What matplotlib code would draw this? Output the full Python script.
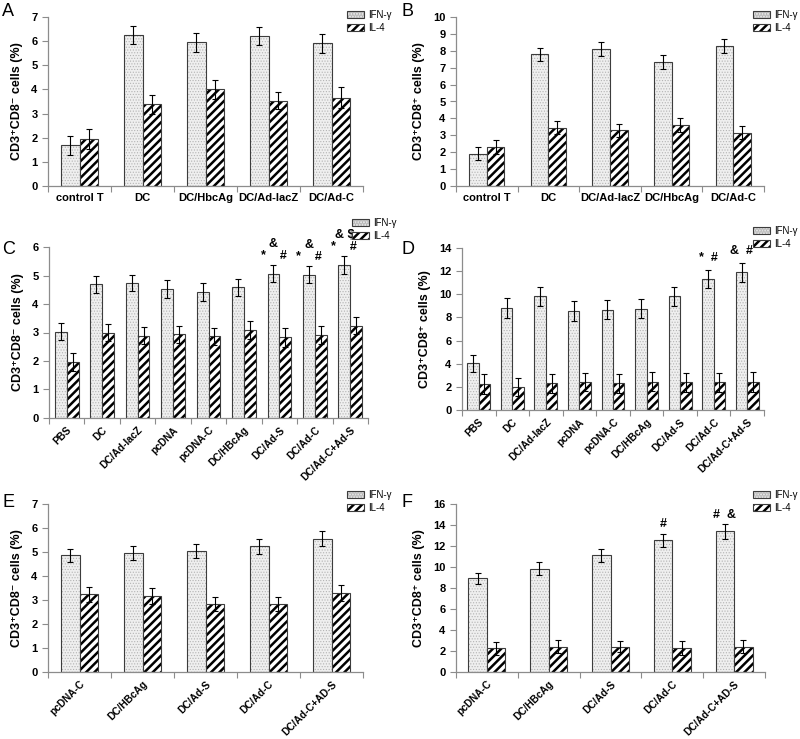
import numpy as np
import matplotlib
matplotlib.use("Agg")
import matplotlib.pyplot as plt
from matplotlib.patches import Patch

plt.rcParams['font.family'] = ['Liberation Sans', 'DejaVu Sans']
plt.rcParams['hatch.linewidth'] = 1.8

# ---- data ----
cats_a = ["control T", "DC", "DC/HbcAg", "DC/Ad-lacZ", "DC/Ad-C"]
ifn_a = [1.69, 6.25, 5.95, 6.20, 5.91]
ifn_err_a = [0.39, 0.38, 0.39, 0.38, 0.39]
il4_a = [1.94, 3.38, 4.01, 3.54, 3.66]
il4_err_a = [0.42, 0.39, 0.39, 0.37, 0.42]

cats_b = ["control T", "DC", "DC/Ad-lacZ", "DC/HbcAg", "DC/Ad-C"]
ifn_b = [1.91, 7.79, 8.13, 7.34, 8.28]
ifn_err_b = [0.40, 0.40, 0.41, 0.41, 0.42]
il4_b = [2.31, 3.45, 3.29, 3.59, 3.16]
il4_err_b = [0.39, 0.40, 0.40, 0.41, 0.39]

cats_c = ["PBS", "DC", "DC/Ad-lacZ", "pcDNA", "pcDNA-C", "DC/HBcAg",
          "DC/Ad-S", "DC/Ad-C", "DC/Ad-C+Ad-S"]
ifn_c = [3.03, 4.69, 4.74, 4.52, 4.43, 4.58, 5.07, 5.03, 5.36]
ifn_err_c = [0.29, 0.29, 0.29, 0.31, 0.31, 0.31, 0.29, 0.30, 0.31]
il4_c = [1.96, 3.00, 2.88, 2.94, 2.86, 3.09, 2.83, 2.91, 3.24]
il4_err_c = [0.31, 0.30, 0.30, 0.30, 0.29, 0.31, 0.33, 0.31, 0.31]
notes_c = {6: "&\n*    #", 7: "&\n*    #", 8: "& $\n*    #"}

cats_d = ["PBS", "DC", "DC/Ad-lacZ", "pcDNA", "pcDNA-C", "DC/HBcAg",
          "DC/Ad-S", "DC/Ad-C", "DC/Ad-C+Ad-S"]
ifn_d = [4.04, 8.80, 9.81, 8.57, 8.66, 8.75, 9.81, 11.35, 11.90]
ifn_err_d = [0.72, 0.84, 0.80, 0.84, 0.81, 0.80, 0.81, 0.77, 0.80]
il4_d = [2.22, 2.02, 2.31, 2.40, 2.31, 2.45, 2.40, 2.40, 2.45]
il4_err_d = [0.85, 0.78, 0.81, 0.78, 0.81, 0.81, 0.83, 0.83, 0.87]
notes_d = {7: "*  #", 8: "&  #"}

cats_e = ["pcDNA-C", "DC/HBcAg", "DC/Ad-S", "DC/Ad-C", "DC/Ad-C+AD-S"]
ifn_e = [4.86, 4.97, 5.04, 5.24, 5.56]
ifn_err_e = [0.27, 0.30, 0.30, 0.31, 0.30]
il4_e = [3.23, 3.18, 2.84, 2.84, 3.29]
il4_err_e = [0.32, 0.34, 0.30, 0.30, 0.33]

cats_f = ["pcDNA-C", "DC/HBcAg", "DC/Ad-S", "DC/Ad-C", "DC/Ad-C+AD-S"]
ifn_f = [8.91, 9.85, 11.10, 12.55, 13.40]
ifn_err_f = [0.56, 0.65, 0.63, 0.63, 0.69]
il4_f = [2.26, 2.42, 2.42, 2.32, 2.42]
il4_err_f = [0.63, 0.62, 0.56, 0.66, 0.65]
notes_f = {3: "#", 4: "#  &"}

ylab_neg = "CD3\u207aCD8\u207b cells (%)"
ylab_pos = "CD3\u207aCD8\u207a cells (%)"

EDGE = "#3c3c3c"
SPINE = "#8c8c8c"
DOT_FACE = "#efefef"
DOT_COL = "#b4b4b4"


def dotted(p):
    # thin hatch for the stippled IFN-g bars
    if hasattr(p, "set_hatch_linewidth"):
        p.set_hatch_linewidth(0.5)
    return p


def panel(rect, letter, letter_xy, cats, ifn, ifn_err, il4, il4_err, ymax, ystep,
          ylab, bw, rotate, leg_xy, notes=None, note_pad=0.15):
    ax = fig.add_axes(rect)
    x = np.arange(len(cats))
    ek = dict(ecolor="black", elinewidth=0.8, capsize=2.5, capthick=0.8)
    bars = ax.bar(x - bw / 2, ifn, bw, facecolor=DOT_FACE, edgecolor=DOT_COL,
                  linewidth=0, hatch="......")
    for b in bars:
        dotted(b)
    ax.bar(x - bw / 2, ifn, bw, fill=False, edgecolor=EDGE, linewidth=0.8,
           yerr=ifn_err, error_kw=ek)
    ax.bar(x + bw / 2, il4, bw, facecolor="white", edgecolor="black",
           linewidth=0, hatch="////")
    ax.bar(x + bw / 2, il4, bw, fill=False, edgecolor=EDGE, linewidth=0.8,
           yerr=il4_err, error_kw=ek)

    ax.set_xlim(-0.5, len(cats) - 0.5)
    ax.set_ylim(0, ymax)
    ax.set_yticks(np.arange(0, ymax + 0.01, ystep))
    ax.set_xticks(np.arange(len(cats) + 1) - 0.5)
    ax.set_xticklabels([])
    ax.set_xticks(x, minor=True)
    if rotate:
        ax.set_xticklabels(cats, minor=True, rotation=45, ha="right",
                           rotation_mode="anchor", fontsize=7.3, fontweight="bold")
        ax.tick_params(axis="x", which="minor", length=0, pad=5)
    else:
        ax.set_xticklabels(cats, minor=True, fontsize=8, fontweight="bold")
        ax.tick_params(axis="x", which="minor", length=0, pad=5)
    ax.tick_params(axis="x", which="major", length=4, width=0.8, color=SPINE)
    ax.tick_params(axis="y", length=4, width=0.8, color=SPINE, labelsize=8)
    for t in ax.get_yticklabels():
        t.set_fontweight("bold")
    for s in ["top", "right"]:
        ax.spines[s].set_visible(False)
    for s in ["left", "bottom"]:
        ax.spines[s].set_color(SPINE)
        ax.spines[s].set_linewidth(0.9)
    ax.set_ylabel(ylab, fontsize=9, fontweight="bold", labelpad=6)

    if notes:
        for i, txt in notes.items():
            ax.text(i - bw / 2, ifn[i] + ifn_err[i] + note_pad * ymax / 10, txt,
                    ha="center", va="bottom", fontsize=9, fontweight="bold",
                    linespacing=1.0, clip_on=False)

    h_ifn = (dotted(Patch(facecolor=DOT_FACE, edgecolor=DOT_COL, linewidth=0,
                          hatch="......")),
             Patch(fill=False, edgecolor=EDGE, linewidth=0.8))
    h_il4 = (Patch(facecolor="white", edgecolor="black", linewidth=0, hatch="////"),
             Patch(fill=False, edgecolor=EDGE, linewidth=0.8))
    ax.legend([h_ifn, h_il4], ["IFN-\u03b3", "IL-4"], loc="upper left",
              bbox_to_anchor=leg_xy, bbox_transform=fig.transFigure, frameon=False,
              fontsize=7, handlelength=1.7, handleheight=0.75, handletextpad=0.5,
              labelspacing=0.3, borderpad=0, borderaxespad=0)
    fig.text(letter_xy[0], letter_xy[1], letter, fontsize=13, va="top", ha="left")
    return ax


fig = plt.figure(figsize=(8, 7.39), dpi=100)
W, H = 800.0, 739.0


def r(x0, x1, ytop, ybot):
    return [x0 / W, 1 - ybot / H, (x1 - x0) / W, (ybot - ytop) / H]


panel(r(48, 363, 17, 186), "A", (2 / W, 1 - 3 / H), cats_a, ifn_a, ifn_err_a,
      il4_a, il4_err_a, 7, 1, ylab_neg, 0.286, False, (347 / W, 1 - 10 / H))
panel(r(456, 764, 17, 186), "B", (402 / W, 1 - 3 / H), cats_b, ifn_b, ifn_err_b,
      il4_b, il4_err_b, 10, 1, ylab_pos, 0.286, False, (753 / W, 1 - 10 / H))
panel(r(49, 368, 247, 418), "C", (2 / W, 1 - 241 / H), cats_c, ifn_c, ifn_err_c,
      il4_c, il4_err_c, 6, 1, ylab_neg, 0.333, True, (352 / W, 1 - 218 / H),
      notes_c, 0.2)
panel(r(462, 764, 248, 410), "D", (402 / W, 1 - 241 / H), cats_d, ifn_d, ifn_err_d,
      il4_d, il4_err_d, 14, 2, ylab_pos, 0.34, True, (753 / W, 1 - 226 / H),
      notes_d, 0.35)
panel(r(48, 363, 504, 672), "E", (2 / W, 1 - 494 / H), cats_e, ifn_e, ifn_err_e,
      il4_e, il4_err_e, 7, 1, ylab_neg, 0.3, True, (347 / W, 1 - 490 / H))
panel(r(456, 765, 504, 672), "F", (402 / W, 1 - 494 / H), cats_f, ifn_f, ifn_err_f,
      il4_f, il4_err_f, 16, 2, ylab_pos, 0.3, True, (753 / W, 1 - 490 / H),
      notes_f, 0.2)

fig.savefig("out.png", dpi=100)
